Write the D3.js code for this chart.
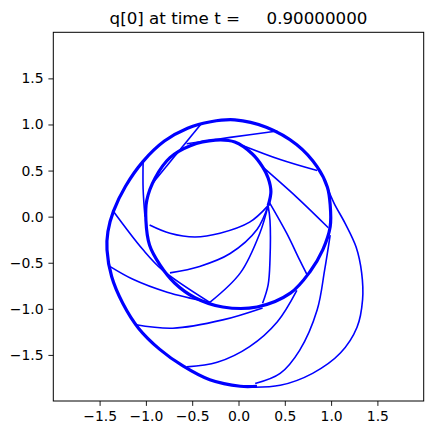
<!DOCTYPE html>
<html><head><meta charset="utf-8">
<script src="https://cdn.jsdelivr.net/npm/d3@7"></script>
<style>
body{margin:0;background:#fff;}
svg{display:block;font-family:"DejaVu Sans",sans-serif;}
</style></head>
<body><svg id="c" width="432" height="435"></svg>
<script>
const titleText = "q[0] at time t =     0.90000000";
const xTicks = [-1.5,-1.0,-0.5,0.0,0.5,1.0,1.5];
const yTicks = [-1.5,-1.0,-0.5,0.0,0.5,1.0,1.5];

// thick spiral curve (inner ring -> outer ring)
const spiral = [[0.32,0.12],[0.35,0.27],[0.32,0.42],[0.26,0.54],[0.15,0.68],[-0.04,0.81],[-0.25,0.83],[-0.52,0.77],[-0.74,0.64],[-0.90,0.42],[-0.99,0.18],[-1.00,-0.04],[-0.96,-0.31],[-0.85,-0.52],[-0.69,-0.72],[-0.47,-0.88],[-0.17,-0.98],[0.20,-0.98],[0.56,-0.83],[0.77,-0.60],[0.91,-0.36],[0.99,-0.11],[0.99,0.13],[0.96,0.32],[0.85,0.54],[0.63,0.78],[0.30,0.97],[-0.04,1.05],[-0.30,1.03],[-0.55,0.96],[-0.80,0.82],[-1.03,0.60],[-1.22,0.33],[-1.35,0.06],[-1.41,-0.16],[-1.42,-0.36],[-1.37,-0.65],[-1.25,-0.94],[-1.08,-1.21],[-0.85,-1.44],[-0.60,-1.62],[-0.31,-1.77],[0.02,-1.84],[0.20,-1.84]];

// thin curves
const bulge = [[0.95,0.34],[1.03,0.15],[1.15,-0.07],[1.27,-0.33],[1.33,-0.61],[1.34,-0.90],[1.28,-1.20],[1.10,-1.48],[0.80,-1.70],[0.45,-1.83],[0.12,-1.85]];
const spokeA = [[0.32,0.12],[0.12,-0.06],[-0.20,-0.18],[-0.47,-0.22],[-0.74,-0.18],[-0.96,-0.09]];
const spokeB = [[0.32,0.12],[0.20,-0.14],[-0.09,-0.40],[-0.42,-0.54],[-0.74,-0.61]];
const spokeC = [[0.32,0.12],[0.23,-0.18],[0.02,-0.61],[-0.31,-0.93]];
const spokeD = [[0.32,0.12],[0.34,-0.04],[0.34,-0.47],[0.32,-0.74],[0.26,-0.94]];
const spokeE = [[0.33,0.16],[0.52,-0.18],[0.66,-0.47],[0.74,-0.63]];
const spokeF = [[0.26,0.54],[0.63,0.21],[0.97,-0.12]];
const spokeG = [[0.05,0.77],[0.45,0.62],[0.85,0.50]];
const spokeH = [[-0.56,0.79],[-0.09,0.86],[0.42,0.93]];
const spokeI = [[-0.40,1.01],[-0.93,0.36]];
const spokeJ = [[-1.03,0.60],[-1.03,0.30],[-1.01,0.00]];
const spokeK = [[-1.36,0.07],[-1.03,-0.36],[-0.82,-0.58],[-0.31,-0.93]];
const spokeL = [[-1.39,-0.54],[-1.14,-0.68],[-0.77,-0.82],[-0.31,-0.93]];
const spokeM = [[-1.12,-1.17],[-0.71,-1.21],[-0.17,-1.12],[0.26,-0.99]];
const spokeN = [[-0.56,-1.63],[-0.23,-1.58],[0.12,-1.41],[0.42,-1.14],[0.63,-0.80]];
const spokeO = [[0.18,-1.81],[0.45,-1.70],[0.66,-1.45],[0.85,-1.01],[0.93,-0.58],[0.99,-0.20]];
const thinCurves = [bulge,spokeA,spokeB,spokeC,spokeD,spokeE,spokeF,spokeG,spokeH,spokeI,spokeJ,spokeK,spokeL,spokeM,spokeN,spokeO];

const svg = d3.select("#c");
const L=53.3,R=423.7,T=32.3,B=401;
const x = d3.scaleLinear().domain([-2,2]).range([L,R]);
const y = d3.scaleLinear().domain([-2,2]).range([B,T]);
const fmt = d => (d<0?"\u2212":"") + Math.abs(d).toFixed(1);

svg.append("defs").append("clipPath").attr("id","clip")
  .append("rect").attr("x",L).attr("y",T).attr("width",R-L).attr("height",B-T);

const line = d3.line().x(d=>x(d[0])).y(d=>y(d[1])).curve(d3.curveCatmullRom.alpha(0.5));
const g = svg.append("g").attr("clip-path","url(#clip)");
g.selectAll("path.thin").data(thinCurves).join("path").attr("class","thin")
  .attr("d",line).attr("fill","none").attr("stroke","#0000ff").attr("stroke-width",1.6).attr("stroke-linejoin","round");
g.append("path").datum(spiral).attr("d",line).attr("fill","none")
  .attr("stroke","#0000ff").attr("stroke-width",3.2).attr("stroke-linejoin","round");

const xa = svg.append("g").attr("transform",`translate(0,${B})`)
  .call(d3.axisBottom(x).tickValues(xTicks).tickFormat(fmt).tickSize(4.9).tickPadding(4.9).tickSizeOuter(0));
const ya = svg.append("g").attr("transform",`translate(${L},0)`)
  .call(d3.axisLeft(y).tickValues(yTicks).tickFormat(fmt).tickSize(4.9).tickPadding(4.9).tickSizeOuter(0));
[xa,ya].forEach(a=>{
  a.select(".domain").remove();
  a.selectAll("line").attr("stroke","#000").attr("stroke-width",0.9);
  a.selectAll("text").attr("font-family","DejaVu Sans").attr("font-size",13.9).attr("fill","#000");
});
svg.append("rect").attr("x",L).attr("y",T).attr("width",R-L).attr("height",B-T)
  .attr("fill","none").attr("stroke","#000").attr("stroke-width",1);

svg.append("text").attr("x",(L+R)/2).attr("y",24).attr("text-anchor","middle")
  .attr("font-family","DejaVu Sans").attr("font-size",16.7).attr("fill","#000")
  .style("white-space","pre").attr("xml:space","preserve").text(titleText);
</script></body></html>
